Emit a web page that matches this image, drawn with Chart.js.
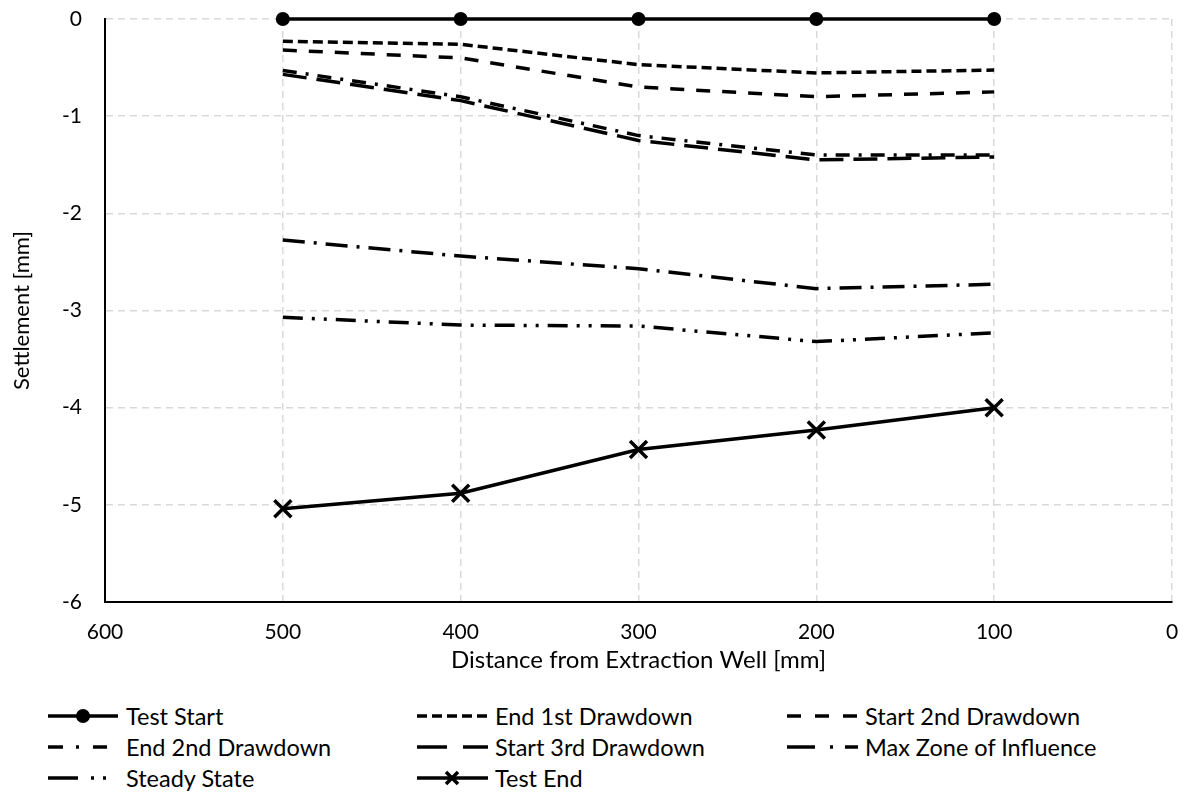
<!DOCTYPE html>
<html><head><meta charset="utf-8">
<script src="https://cdn.jsdelivr.net/npm/chart.js@4/dist/chart.umd.min.js"></script>
<style>
body{margin:0;background:#fff;font-family:Lato, sans-serif;}
#wrap{position:relative;width:1189px;height:792px;overflow:hidden;}
#cw{position:absolute;left:0;top:0;width:1189px;height:690px;}
.lg{position:absolute;height:30px;display:flex;align-items:center;font-size:23.5px;color:#000;white-space:nowrap;}
.lg svg{flex:none;margin-right:7px;}
</style></head>
<body><div id="wrap"><div id="cw"><canvas id="c"></canvas></div><div id="legend"></div></div>
<script>
const distances=[500,400,300,200,100];
const testStart=[0,0,0,0,0];
const end1st=[-0.23,-0.26,-0.47,-0.555,-0.525];
const start2nd=[-0.32,-0.40,-0.70,-0.80,-0.75];
const end2nd=[-0.53,-0.80,-1.20,-1.40,-1.40];
const start3rd=[-0.57,-0.84,-1.25,-1.45,-1.42];
const maxZone=[-2.275,-2.44,-2.57,-2.775,-2.73];
const steady=[-3.07,-3.15,-3.16,-3.32,-3.23];
const testEnd=[-5.04,-4.88,-4.43,-4.23,-4.0];
const seriesNames=['Test Start','End 1st Drawdown','Start 2nd Drawdown','End 2nd Drawdown','Start 3rd Drawdown','Max Zone of Influence','Steady State','Test End'];
const xTicks=[600,500,400,300,200,100,0];
const yTicks=[0,-1,-2,-3,-4,-5,-6];

const FONT='Lato';
const pts=a=>a.map((v,i)=>({x:distances[i],y:v}));
const dashes=[[],[10,5],[14,12],[14,9,3,9],[24,10],[22,9,3,9],[20,9,3,9,3,9],[]];
const values=[testStart,end1st,start2nd,end2nd,start3rd,maxZone,steady,testEnd];
const datasets=values.map((v,i)=>({
  label:seriesNames[i],
  data:pts(v),
  borderColor:'#000',
  backgroundColor:'#000',
  borderWidth:3.5,
  borderDash:dashes[i],
  pointRadius:i===0?7:(i===7?12:0),
  pointStyle:i===7?'crossRot':'circle',
  pointBorderWidth:i===7?3.5:0,
  pointBackgroundColor:'#000',
  pointBorderColor:'#000',
  tension:0,
  fill:false,
  clip:false
}));

new Chart(document.getElementById('c'),{
  type:'line',
  data:{datasets},
  options:{
    responsive:true,maintainAspectRatio:false,animation:false,
    layout:{autoPadding:false,padding:{top:19,right:17,left:0,bottom:0}},
    plugins:{legend:{display:false},tooltip:{enabled:false}},
    scales:{
      x:{type:'linear',reverse:true,min:0,max:600,
        afterBuildTicks:s=>{s.ticks=xTicks.map(v=>({value:v}));},
        afterFit:s=>{s.height=88;s.paddingLeft=0;s.paddingRight=0;},
        grid:{color:'#d9d9d9',lineWidth:1.5,drawTicks:false},
        border:{display:true,color:'#000',width:2,dash:[7,5]},
        ticks:{padding:18,color:'#000',font:{family:FONT,size:21},maxRotation:0},
        title:{display:true,text:'Distance from Extraction Well [mm]',color:'#000',font:{family:FONT,size:24},padding:{bottom:15,top:0}}
      },
      y:{type:'linear',min:-6,max:0,
        afterBuildTicks:s=>{s.ticks=yTicks.map(v=>({value:v}));},
        afterFit:s=>{s.width=105;s.paddingTop=0;s.paddingBottom=0;},
        grid:{color:'#d9d9d9',lineWidth:1.5,drawTicks:false},
        border:{display:true,color:'#000',width:2,dash:[7,5]},
        ticks:{padding:23,color:'#000',font:{family:FONT,size:21}},
        title:{display:true,text:'Settlement [mm]',color:'#000',font:{family:FONT,size:22},padding:{top:9,bottom:0}}
      }
    }
  }
});

// HTML legend (3 columns)
const legendLayout=[
  {x:48,y:716},{x:417,y:716},{x:787,y:716},
  {x:48,y:747},{x:417,y:747},{x:787,y:747},
  {x:48,y:778},{x:417,y:778}
];
const legendSamples=[
  '<line x1="0" y1="15" x2="70" y2="15" stroke="#000" stroke-width="3.5"/><circle cx="35" cy="15" r="7" fill="#000"/>',
  '<line x1="0" y1="15" x2="71" y2="15" stroke="#000" stroke-width="3.5" stroke-dasharray="10 5"/>',
  '<line x1="0" y1="15" x2="71" y2="15" stroke="#000" stroke-width="3.5" stroke-dasharray="14 14"/>',
  '<line x1="0" y1="15" x2="15" y2="15" stroke="#000" stroke-width="3.5"/><line x1="28" y1="15" x2="31" y2="15" stroke="#000" stroke-width="3.5"/><line x1="45" y1="15" x2="59" y2="15" stroke="#000" stroke-width="3.5"/>',
  '<line x1="0" y1="15" x2="30" y2="15" stroke="#000" stroke-width="3.5"/><line x1="46" y1="15" x2="71" y2="15" stroke="#000" stroke-width="3.5"/>',
  '<line x1="0" y1="15" x2="28" y2="15" stroke="#000" stroke-width="3.5"/><line x1="43" y1="15" x2="46" y2="15" stroke="#000" stroke-width="3.5"/><line x1="58" y1="15" x2="71" y2="15" stroke="#000" stroke-width="3.5"/>',
  '<line x1="0" y1="15" x2="30" y2="15" stroke="#000" stroke-width="3.5"/><line x1="43" y1="15" x2="46" y2="15" stroke="#000" stroke-width="3.5"/><line x1="55" y1="15" x2="58" y2="15" stroke="#000" stroke-width="3.5"/>',
  '<line x1="0" y1="15" x2="71" y2="15" stroke="#000" stroke-width="3.5"/><path d="M29 9 L41 21 M41 9 L29 21" stroke="#000" stroke-width="3.5"/>'
];
const lg=document.getElementById('legend');
seriesNames.forEach((n,i)=>{
  const d=document.createElement('div');
  d.className='lg';
  d.style.left=legendLayout[i].x+'px';
  d.style.top=(legendLayout[i].y-15)+'px';
  d.innerHTML='<svg width="71" height="30">'+legendSamples[i]+'</svg><span>'+n+'</span>';
  lg.appendChild(d);
});
</script>
</body></html>
